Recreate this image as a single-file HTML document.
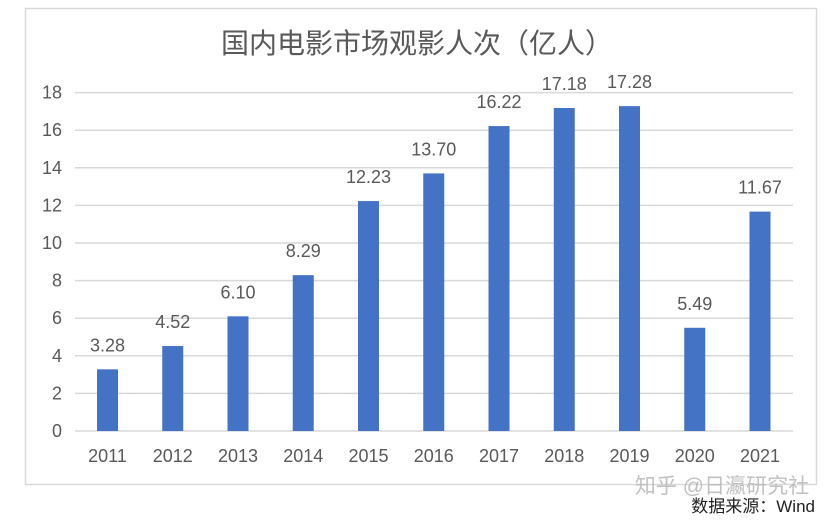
<!DOCTYPE html>
<html><head><meta charset="utf-8"><style>
body{margin:0;background:#fff;}
svg text{font-family:"Liberation Sans","Noto Sans CJK SC",sans-serif;}
</style></head><body>
<svg width="834" height="519" xmlns="http://www.w3.org/2000/svg">
<rect x="0" y="0" width="834" height="519" fill="#fff"/>
<rect x="25.5" y="8.5" width="791" height="476" fill="#fff" stroke="#d9d9d9" stroke-width="1.5"/>
<text x="417" y="53" font-size="28" fill="#595959" text-anchor="middle">国内电影市场观影人次（亿人）</text>
<g stroke="#d9d9d9" stroke-width="1.5">
<line x1="75" x2="793" y1="431" y2="431"/>
<line x1="75" x2="793" y1="393.4" y2="393.4"/>
<line x1="75" x2="793" y1="355.8" y2="355.8"/>
<line x1="75" x2="793" y1="318.2" y2="318.2"/>
<line x1="75" x2="793" y1="280.6" y2="280.6"/>
<line x1="75" x2="793" y1="243" y2="243"/>
<line x1="75" x2="793" y1="205.4" y2="205.4"/>
<line x1="75" x2="793" y1="167.8" y2="167.8"/>
<line x1="75" x2="793" y1="130.2" y2="130.2"/>
<line x1="75" x2="793" y1="92.6" y2="92.6"/>
</g>
<g font-size="18" fill="#595959" text-anchor="end">
<text x="62" y="437">0</text><text x="62" y="399.4">2</text><text x="62" y="361.8">4</text><text x="62" y="324.2">6</text><text x="62" y="286.6">8</text><text x="62" y="249">10</text><text x="62" y="211.4">12</text><text x="62" y="173.8">14</text><text x="62" y="136.2">16</text><text x="62" y="98.6">18</text>
</g>
<g fill="#4472c4" id="bars"></g>
<g id="labels" font-size="18" fill="#595959" text-anchor="middle"></g>
<text x="722" y="493" font-size="21" fill="#bbb" text-anchor="middle" opacity="0.9">知乎 @日瀛研究社</text>
<text x="815" y="512" font-size="17" fill="#222" text-anchor="end">数据来源：Wind</text>
<script>
var v=[3.28,4.52,6.10,8.29,12.23,13.70,16.22,17.18,17.28,5.49,11.67];
var b=document.getElementById('bars'),l=document.getElementById('labels'),ns="http://www.w3.org/2000/svg";
v.forEach(function(d,i){var cx=107.5+i*65.25,h=d*18.8,y=431-h;
var r=document.createElementNS(ns,'rect');r.setAttribute('x',cx-10.5);r.setAttribute('width',21);r.setAttribute('y',y);r.setAttribute('height',h);b.appendChild(r);
var t=document.createElementNS(ns,'text');t.setAttribute('x',cx);t.setAttribute('y',y-18);t.textContent=d.toFixed(2);l.appendChild(t);
var t2=document.createElementNS(ns,'text');t2.setAttribute('x',cx);t2.setAttribute('y',462);t2.textContent=2011+i;l.appendChild(t2);});
</script>
</svg>
</body></html>
